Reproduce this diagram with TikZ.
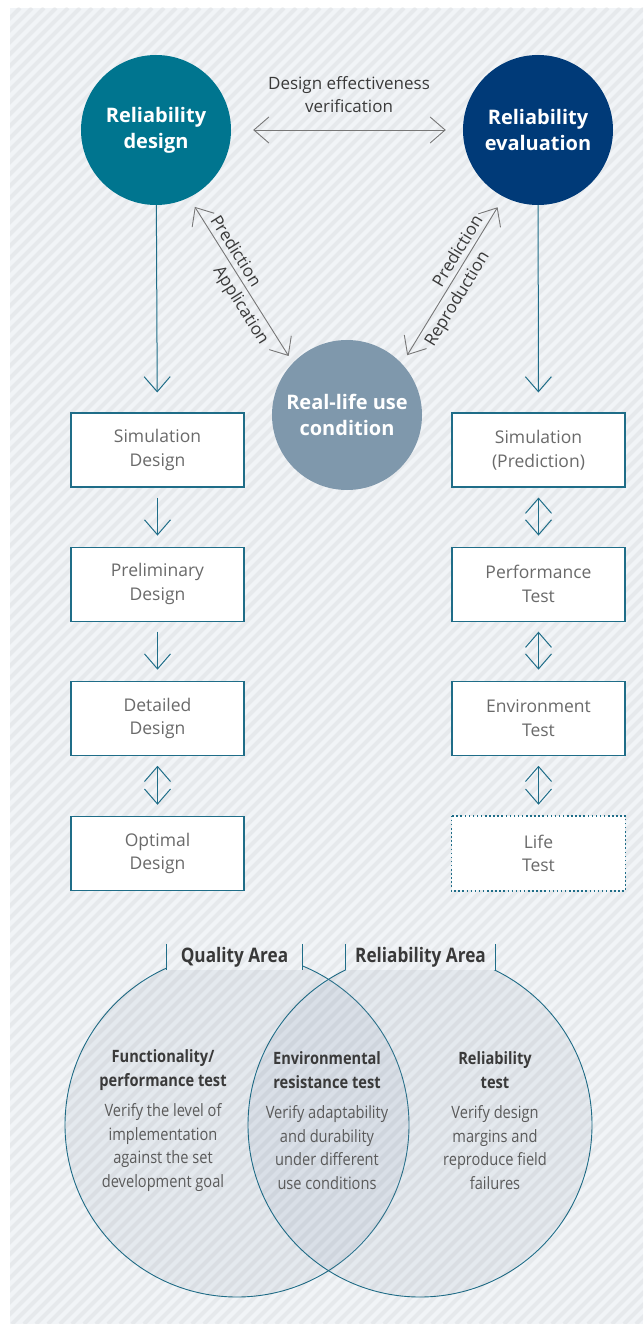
\documentclass[tikz,border=0pt]{standalone}
\usepackage{fontspec}
\setmainfont{Open Sans}
\newfontfamily\condfont[FakeStretch=0.86]{Open Sans}
\usetikzlibrary{arrows.meta,positioning}
\definecolor{panel}{HTML}{F1F4F7}
\definecolor{rdesign}{HTML}{00758F}
\definecolor{reval}{HTML}{003A78}
\definecolor{rlife}{HTML}{7F98AC}
\definecolor{edge}{HTML}{1F6D88}
\definecolor{greyarrow}{HTML}{777777}
\definecolor{boxtext}{HTML}{6A6A6A}
\definecolor{darktext}{HTML}{3A3A3A}
\definecolor{venn}{HTML}{8FA3B8}
\begin{document}
\begin{tikzpicture}[x=1pt, y=-1pt,
    >={Straight Barb[length=15pt,width=26pt]},
    bigcircle/.style={circle, minimum size=150pt, inner sep=0pt, text=white, align=center,
        font=\fontsize{20}{26}\selectfont\bfseries},
    stagebox/.style={draw=edge, line width=1.1pt, fill=white, minimum width=173pt,
        minimum height=74pt, align=center, text=boxtext, font=\fontsize{17.5}{23.5}\selectfont},
    flow/.style={draw=edge, line width=1pt},
    link/.style={draw=greyarrow, line width=0.9pt},
    linklabel/.style={text=darktext, inner sep=2pt, font=\fontsize{17}{23}\selectfont},
    venncircle/.style={circle, minimum size=344pt, inner sep=0pt, draw=edge, line width=0.9pt,
        fill=venn, fill opacity=0.13},
    vennhead/.style={fill=panel, minimum width=135pt, minimum height=26pt, inner sep=0pt,
        text=darktext, font=\condfont\fontsize{20}{24}\selectfont\bfseries},
    venntitle/.style={align=center, text=darktext, font=\condfont\fontsize{17}{24}\selectfont\bfseries},
    venntext/.style={align=center, text=boxtext!85!black, font=\condfont\fontsize{17}{23.6}\selectfont},
    stripe/.style={line width=4.2pt, draw=black, draw opacity=0.045}]
  \useasboundingbox (0,0) rectangle (643,1324);
  \fill[panel] (10,8) rectangle (643,1324);

  % quality / reliability areas
  \node[venncircle] (qc) at (237,1125) {};
  \node[venncircle] (rc) at (420,1125) {};
  \node[vennhead] (qa) at (234.5,957) {Quality Area};
  \node[vennhead, minimum width=149pt] (ra) at (420.5,957) {Reliability Area};

  \begin{scope}
    \clip (10,8) rectangle (643,1324);
    \foreach \s in {-1320,-1308,...,650}
      \draw[stripe] (\s,1324) -- (\s+1316,8);
  \end{scope}

  \draw[edge, line width=1pt] (qa.north west) -- (qa.south west);
  \draw[edge, line width=1pt] (qa.north east) -- (qa.south east);
  \draw[edge, line width=1pt] (ra.north west) -- (ra.south west);
  \draw[edge, line width=1pt] (ra.north east) -- (ra.south east);

  \node[venntitle] (ft) at (163,1070) {Functionality/\\performance test};
  \node[venntext] (fb) at (163,1147.5) {Verify the level of\\implementation\\against the set\\development goal};
  \node[venntitle] (et) at (327,1070) {Environmental\\resistance test};
  \node[venntext] (eb) at (327,1147.5) {Verify adaptability\\and durability\\under different\\use conditions};
  \node[venntitle] (rt) at (495,1070) {Reliability\\test};
  \node[venntext] (rb) at (495,1147.5) {Verify design\\margins and\\reproduce field\\failures};

  % circles
  \node[bigcircle, fill=rdesign] (rd) at (156,130) {Reliability\\design};
  \node[bigcircle, fill=reval] (re) at (538,130) {Reliability\\evaluation};
  \node[bigcircle, fill=rlife] (rl) at (347,415) {Real-life use\\condition};

  \draw[link, <->, shorten <=22pt, shorten >=17pt] (rd) -- (re);
  \node[linklabel, align=center] (dv) at (349,94.5) {Design effectiveness\\verification};
  \draw[link, <->, shorten <=11pt, shorten >=8pt] (rd.-64) -- (rl.136)
    node[linklabel, pos=0.36, above=3pt, sloped] {Prediction}
    node[linklabel, pos=0.61, below=3pt, sloped] {Application};
  \draw[link, <->, shorten <=10pt, shorten >=12pt] (rl.43) -- (re.-117)
    node[linklabel, pos=0.64, above=3pt, sloped] {Prediction}
    node[linklabel, pos=0.43, below=3pt, sloped] {Reproduction};

  % design steps
  \node[stagebox] (sd) at (157.5,450) {Simulation\\Design};
  \node[stagebox, below=59pt of sd] (pd) {Preliminary\\Design};
  \node[stagebox, below=59pt of pd] (dd) {Detailed\\Design};
  \node[stagebox, below=60pt of dd] (od) {Optimal\\Design};

  % evaluation steps
  \node[stagebox] (sp) at (538.5,450) {Simulation\\(Prediction)};
  \node[stagebox, below=59pt of sp] (pt) {Performance\\Test};
  \node[stagebox, below=59pt of pt] (et2) {Environment\\Test};
  \node[stagebox, below=60pt of et2, draw=none] (lt) {Life\\Test};
  \draw[edge, line width=1.5pt, dash pattern=on 1.5pt off 2.6pt] (lt.north west) rectangle (lt.south east);

  \draw[flow, ->, shorten >=20pt] (rd) -- (sd);
  \draw[flow, ->, shorten >=20pt] (re) -- (sp);
  \draw[flow, ->, shorten <=10pt, shorten >=11pt] (sd) -- (pd);
  \draw[flow, ->, shorten <=10pt, shorten >=11pt] (pd) -- (dd);
  \draw[flow, <->, shorten <=10pt, shorten >=11pt] (dd) -- (od);
  \draw[flow, <->, shorten <=10pt, shorten >=11pt] (sp) -- (pt);
  \draw[flow, <->, shorten <=10pt, shorten >=11pt] (pt) -- (et2);
  \draw[flow, <->, shorten <=10pt, shorten >=11pt] (et2) -- (lt);
\end{tikzpicture}
\end{document}
